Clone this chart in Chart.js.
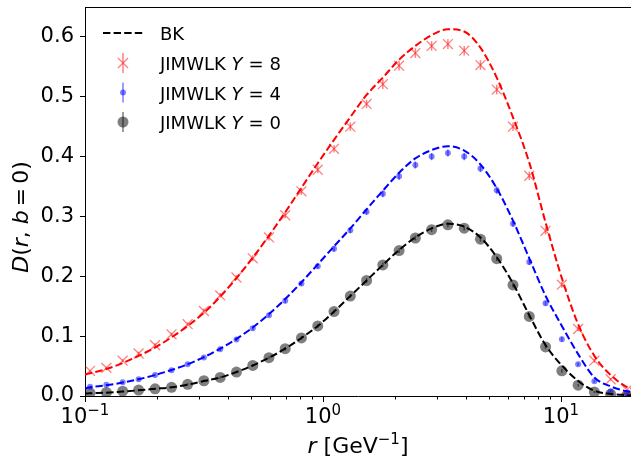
<!DOCTYPE html>
<html>
<head>
<meta charset="utf-8">
<script src="https://cdn.jsdelivr.net/npm/chart.js@4.4.0/dist/chart.umd.min.js"></script>
<style>
  html, body { margin: 0; padding: 0; background: #fff; }
  #wrap { width: 631px; height: 457px; }
</style>
</head>
<body>
<div id="wrap"><canvas id="chart" width="631" height="457"></canvas></div>
<script>
// r values of the JIMWLK points [GeV^-1]
const rPoints = [0.105, 0.123, 0.144, 0.168, 0.197, 0.231, 0.270, 0.316, 0.370, 0.433,
  0.507, 0.593, 0.694, 0.812, 0.951, 1.113, 1.303, 1.525, 1.785, 2.089,
  2.445, 2.862, 3.350, 3.922, 4.590, 5.373, 6.289, 7.362, 8.617, 10.09,
  11.81, 13.82, 16.18, 18.93];

// JIMWLK D(r, b=0) at Y = 8, 4, 0
const jimY8 = [0.042, 0.047, 0.059, 0.071, 0.085, 0.103, 0.120, 0.142, 0.168, 0.198,
  0.230, 0.265, 0.302, 0.342, 0.378, 0.413, 0.450, 0.488, 0.521, 0.552,
  0.573, 0.585, 0.588, 0.577, 0.553, 0.512, 0.450, 0.368, 0.276, 0.186,
  0.112, 0.059, 0.028, 0.010];
const jimY4 = [0.0155, 0.019, 0.023, 0.028, 0.035, 0.043, 0.053, 0.0645, 0.078, 0.0945,
  0.113, 0.135, 0.159, 0.188, 0.217, 0.246, 0.277, 0.308, 0.338, 0.367,
  0.386, 0.400, 0.406, 0.400, 0.380, 0.344, 0.288, 0.224, 0.155, 0.095,
  0.053, 0.0245, 0.008, 0.0045];
const jimY0 = [0.005, 0.006, 0.008, 0.010, 0.012, 0.0145, 0.0195, 0.0255, 0.031, 0.040,
  0.051, 0.064, 0.079, 0.097, 0.117, 0.141, 0.167, 0.193, 0.219, 0.243,
  0.264, 0.278, 0.286, 0.2805, 0.262, 0.2295, 0.1855, 0.133, 0.082, 0.042,
  0.018, 0.0067, 0.003, 0.001];

// statistical errors of the JIMWLK points
const errY8 = [0.002, 0.002, 0.002, 0.003, 0.003, 0.003, 0.003, 0.004, 0.004, 0.004,
  0.005, 0.005, 0.005, 0.006, 0.006, 0.006, 0.007, 0.007, 0.008, 0.008,
  0.008, 0.008, 0.008, 0.008, 0.008, 0.008, 0.007, 0.007, 0.006, 0.005,
  0.004, 0.003, 0.002, 0.001];
const errY4 = [0.001, 0.001, 0.001, 0.002, 0.002, 0.002, 0.002, 0.002, 0.003, 0.003,
  0.003, 0.003, 0.004, 0.004, 0.004, 0.005, 0.005, 0.005, 0.006, 0.006,
  0.006, 0.006, 0.006, 0.006, 0.006, 0.006, 0.005, 0.005, 0.004, 0.004,
  0.003, 0.002, 0.001, 0.001];
const errY0 = [0.001, 0.001, 0.001, 0.001, 0.001, 0.001, 0.002, 0.002, 0.002, 0.002,
  0.002, 0.002, 0.003, 0.003, 0.003, 0.003, 0.003, 0.004, 0.004, 0.004,
  0.004, 0.004, 0.004, 0.004, 0.004, 0.004, 0.004, 0.003, 0.003, 0.003,
  0.002, 0.002, 0.001, 0.001];

// BK curves
const bkR = [0.1, ...rPoints, 20];
const bkY8 = [0.036, 0.038, 0.045, 0.055, 0.067, 0.081, 0.098, 0.117, 0.139, 0.166, 0.197,
  0.231, 0.268, 0.307, 0.348, 0.389, 0.428, 0.466, 0.503, 0.532, 0.562,
  0.585, 0.603, 0.613, 0.609, 0.582, 0.532, 0.4655, 0.390, 0.290, 0.197,
  0.120, 0.067, 0.035, 0.015, 0.012];
const bkY4 = [0.013, 0.0145, 0.018, 0.0225, 0.028, 0.035, 0.0435, 0.053, 0.065, 0.079, 0.0955,
  0.1145, 0.137, 0.162, 0.190, 0.220, 0.250, 0.280, 0.312, 0.343, 0.373,
  0.397, 0.411, 0.4175, 0.410, 0.387, 0.347, 0.293, 0.230, 0.1675, 0.117,
  0.070, 0.031, 0.016, 0.008, 0.007];
const bkY0 = [0.004, 0.0045, 0.0055, 0.0075, 0.0095, 0.012, 0.0145, 0.019, 0.025, 0.031, 0.040,
  0.051, 0.064, 0.079, 0.097, 0.117, 0.141, 0.167, 0.193, 0.219, 0.244,
  0.265, 0.280, 0.288, 0.283, 0.265, 0.232, 0.188, 0.135, 0.085, 0.051,
  0.025, 0.0088, 0.0035, 0.0015, 0.001];

const yTicks = [0, 0.1, 0.2, 0.3, 0.4, 0.5, 0.6];
const xMajorTicks = [0.1, 1, 10];

const FONT = "'DejaVu Sans'";
const TICK_SIZE = 21, LABEL_SIZE = 22, LEGEND_SIZE = 18;
const RED = 'rgba(255,0,0,0.5)', BLUE = 'rgba(0,0,255,0.5)', GREY = 'rgba(0,0,0,0.5)';
const DASH = [7.4, 3.2];

const xy = (xs, ys) => xs.map((x, i) => ({ x: x, y: ys[i] }));

// draw a row of text pieces, some italic / superscript
function drawRuns(ctx, runs, x, y, size, align) {
  const fontOf = r => (r.it ? 'italic ' : '') + Math.round(size * (r.sup ? 0.7 : 1)) + 'px ' + FONT;
  const widths = runs.map(r => {
    ctx.font = fontOf(r);
    return ctx.measureText(r.t).width + (r.pre || 0) + (r.post || 0);
  });
  const total = widths.reduce((a, b) => a + b, 0);
  let cx = align === 'center' ? x - total / 2 : x;
  runs.forEach((r, i) => {
    ctx.font = fontOf(r);
    ctx.fillText(r.t, cx + (r.pre || 0), y - (r.sup ? size * 0.4 : 0));
    cx += widths[i];
  });
}

function marker(ctx, kind, x, y) {
  ctx.save();
  ctx.setLineDash([]);
  if (kind === 'x') {
    ctx.strokeStyle = RED; ctx.lineWidth = 1.3;
    ctx.beginPath();
    ctx.moveTo(x - 5, y - 5); ctx.lineTo(x + 5, y + 5);
    ctx.moveTo(x - 5, y + 5); ctx.lineTo(x + 5, y - 5);
    ctx.stroke();
  } else {
    ctx.fillStyle = kind === 'blue' ? BLUE : GREY;
    ctx.beginPath();
    ctx.arc(x, y, kind === 'blue' ? 3 : 5.5, 0, Math.PI * 2);
    ctx.fill();
  }
  ctx.restore();
}

const errorBars = {
  id: 'errorBars',
  beforeDatasetsDraw(chart) {
    const ctx = chart.ctx, ys = chart.scales.y;
    chart.data.datasets.forEach((ds, di) => {
      if (!ds.errors) return;
      const meta = chart.getDatasetMeta(di);
      ctx.save();
      ctx.strokeStyle = ds.borderColor;
      ctx.lineWidth = 1.5;
      meta.data.forEach((pt, i) => {
        const v = ds.data[i].y, e = ds.errors[i];
        ctx.beginPath();
        ctx.moveTo(pt.x, ys.getPixelForValue(v - e));
        ctx.lineTo(pt.x, ys.getPixelForValue(v + e));
        ctx.stroke();
      });
      ctx.restore();
    });
  }
};

const decorations = {
  id: 'decorations',
  afterDraw(chart) {
    const ctx = chart.ctx, xs = chart.scales.x, area = chart.chartArea;
    ctx.save();
    // top spine
    ctx.strokeStyle = '#000'; ctx.lineWidth = 1;
    ctx.beginPath(); ctx.moveTo(area.left, area.top + 0.5); ctx.lineTo(area.right, area.top + 0.5); ctx.stroke();
    // x tick marks and labels
    xs.ticks.forEach(t => {
      const px = Math.round(xs.getPixelForValue(t.value)) + 0.5;
      const major = xMajorTicks.some(m => Math.abs(m - t.value) < 1e-9);
      ctx.beginPath();
      ctx.moveTo(px, area.bottom); ctx.lineTo(px, area.bottom + (major ? 6 : 3.5));
      ctx.stroke();
    });
    ctx.fillStyle = '#000';
    ctx.textBaseline = 'alphabetic';
    xMajorTicks.forEach(v => {
      const e = Math.round(Math.log10(v));
      drawRuns(ctx, [{ t: '10' }, { t: e < 0 ? '\u2212' + (-e) : String(e), sup: true }],
        xs.getPixelForValue(v), 423, TICK_SIZE, 'center');
    });
    // axis titles
    drawRuns(ctx, [{ t: 'r', it: true }, { t: ' [GeV' }, { t: '\u22121', sup: true }, { t: ']' }],
      (area.left + area.right) / 2, 453, LABEL_SIZE, 'center');
    ctx.save();
    ctx.translate(28, 217);
    ctx.rotate(-Math.PI / 2);
    drawRuns(ctx, [{ t: 'D', it: true }, { t: '(' }, { t: 'r', it: true }, { t: ', ' },
      { t: 'b', it: true }, { t: '=', pre: 4, post: 4 }, { t: '0' }, { t: ')' }], 0, 0, LABEL_SIZE, 'center');
    ctx.restore();
    // legend
    ctx.strokeStyle = '#000'; ctx.lineWidth = 2; ctx.setLineDash(DASH);
    ctx.beginPath(); ctx.moveTo(103, 33); ctx.lineTo(143, 33); ctx.stroke();
    ctx.setLineDash([]);
    ctx.font = LEGEND_SIZE + 'px ' + FONT;
    ctx.fillText('BK', 160, 40);
    const rows = [['x', RED, '8', 63], ['blue', BLUE, '4', 92.5], ['grey', GREY, '0', 122]];
    rows.forEach(([kind, col, yv, cy]) => {
      ctx.strokeStyle = col; ctx.lineWidth = 1.5;
      ctx.beginPath(); ctx.moveTo(123, cy - 10); ctx.lineTo(123, cy + 10); ctx.stroke();
      marker(ctx, kind, 123, cy);
      ctx.fillStyle = '#000';
      drawRuns(ctx, [{ t: 'JIMWLK ' }, { t: 'Y', it: true }, { t: '=', pre: 6, post: 6 }, { t: yv }],
        160, cy + 7, LEGEND_SIZE, 'left');
    });
    ctx.restore();
  }
};

const bkLine = (ys, color) => ({
  type: 'line', data: xy(bkR, ys), borderColor: color, borderWidth: 2, borderDash: DASH,
  pointRadius: 0, fill: false, cubicInterpolationMode: 'monotone', order: 0
});
const jimPoints = (ys, errs, color, style, radius) => ({
  type: 'scatter', data: xy(rPoints, ys), errors: errs, borderColor: color, backgroundColor: color,
  pointStyle: style, pointRadius: radius, pointBorderWidth: style === 'crossRot' ? 1.3 : 0, order: 1
});

new Chart(document.getElementById('chart'), {
  data: {
    datasets: [
      bkLine(bkY0, '#000000'),
      bkLine(bkY4, '#0000ff'),
      bkLine(bkY8, '#ff0000'),
      jimPoints(jimY8, errY8, RED, 'crossRot', 7),
      jimPoints(jimY4, errY4, BLUE, 'circle', 3),
      jimPoints(jimY0, errY0, GREY, 'circle', 5.5)
    ]
  },
  options: {
    responsive: false,
    animation: false,
    devicePixelRatio: 1,
    layout: { autoPadding: false, padding: { top: 7, right: 0, left: 0, bottom: 0 } },
    plugins: { legend: { display: false }, tooltip: { enabled: false } },
    scales: {
      x: {
        type: 'logarithmic', min: 0.1, max: 19.7,
        afterBuildTicks: s => {
          s.ticks = s.ticks.filter(t => {
            const sig = t.value / Math.pow(10, Math.floor(Math.log10(t.value) + 1e-9));
            return Math.abs(sig - Math.round(sig)) < 1e-6;
          });
        },
        ticks: { callback: () => '', autoSkip: false, maxRotation: 0 },
        grid: { display: false },
        border: { color: '#000', width: 1 },
        afterFit: s => { s.height = 61; s.paddingLeft = 0; s.paddingRight = 0; }
      },
      y: {
        min: 0, max: 0.65,
        afterBuildTicks: s => { s.ticks = yTicks.map(v => ({ value: v })); },
        ticks: { callback: v => v.toFixed(1), color: '#000', padding: 6, font: { family: 'DejaVu Sans', size: TICK_SIZE } },
        grid: { drawOnChartArea: false, tickLength: 5, tickColor: '#000', tickWidth: 1 },
        border: { color: '#000', width: 1 },
        afterFit: s => { s.width = 85; s.paddingTop = 0; s.paddingBottom = 0; }
      }
    }
  },
  plugins: [errorBars, decorations]
});
</script>
</body>
</html>
